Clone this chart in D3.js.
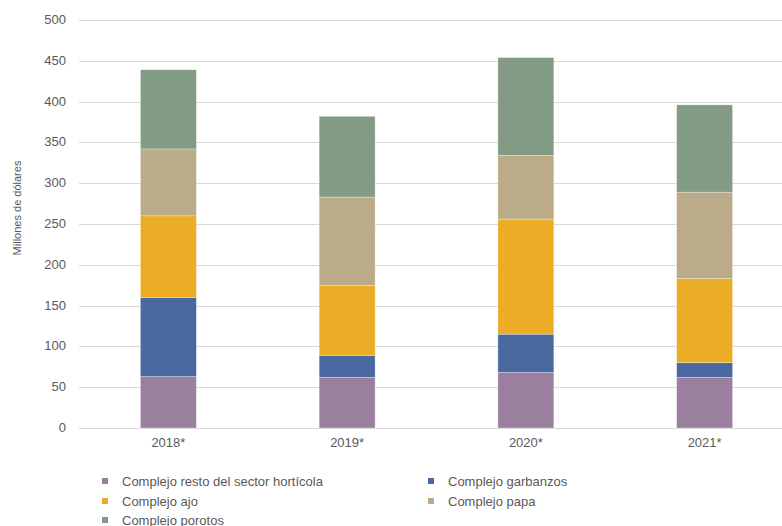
<!DOCTYPE html>
<html>
<head>
<meta charset="utf-8">
<script src="https://cdn.jsdelivr.net/npm/d3@7"></script>
<style>
  body { margin: 0; background: #fff; }
  text { font-family: "Liberation Sans", Arial, sans-serif; fill: #595959; }
</style>
</head>
<body>
<div id="chart"></div>
<script>
var years = ["2018*", "2019*", "2020*", "2021*"];
var series = ["Complejo resto del sector hortícola", "Complejo garbanzos", "Complejo ajo", "Complejo papa", "Complejo porotos"];
var resto = [63, 62, 68, 62];
var garbanzos = [97, 27, 47, 18];
var ajo = [100, 86, 141, 103];
var papa = [82, 108, 78, 106];
var porotos = [97, 99, 120, 107];
var yTicks = [0, 50, 100, 150, 200, 250, 300, 350, 400, 450, 500];
var colors = ["#9a7f9e", "#4c68a0", "#ebac26", "#bcab88", "#839b84"];

var rows = years.map(function(y, i) {
  return {year: y, s0: resto[i], s1: garbanzos[i], s2: ajo[i], s3: papa[i], s4: porotos[i]};
});
var keys = ["s0", "s1", "s2", "s3", "s4"];
var stacked = d3.stack().keys(keys)(rows);

var svg = d3.select("#chart").append("svg")
  .attr("width", 782).attr("height", 526)

var x = d3.scaleBand().domain(years).range([79, 794])
  .paddingInner(0.687).paddingOuter(0.3435);
var y = d3.scaleLinear().domain([0, 500]).range([428, 20]);

// gridlines
svg.append("g").selectAll("line")
  .data(yTicks)
  .enter().append("line")
  .attr("x1", 79).attr("x2", 782)
  .attr("y1", function(d){ return Math.round(y(d)) + 0.5 })
  .attr("y2", function(d){ return Math.round(y(d)) + 0.5 })
  .attr("stroke", "#d9d9d9").attr("stroke-width", 1);

svg.append("g").selectAll("text")
  .data(yTicks)
  .enter().append("text")
  .attr("x", 66).attr("y", function(d){ return y(d) + 4 })
  .attr("text-anchor", "end")
  .style("font-size", "13px")
  .text(function(d){ return d });

// bars
svg.append("g").selectAll("g")
  .data(stacked)
  .enter().append("g")
  .attr("fill", function(d, i){ return colors[i] })
  .selectAll("rect")
  .data(function(d){ return d })
  .enter().append("rect")
  .attr("x", function(d){ return x(d.data.year) })
  .attr("width", x.bandwidth())
  .attr("y", function(d){ return y(d[1]) })
  .attr("height", function(d){ return y(d[0]) - y(d[1]) })
  .attr("stroke", "#ffffff").attr("stroke-width", 0.6).attr("stroke-opacity", 0.5);

// x labels
svg.append("g").selectAll("text")
  .data(years)
  .enter().append("text")
  .attr("x", function(d){ return x(d) + x.bandwidth() / 2 })
  .attr("y", 447)
  .attr("text-anchor", "middle")
  .style("font-size", "13px")
  .text(function(d){ return d });

// y title
svg.append("text")
  .attr("transform", "translate(21,208) rotate(-90)")
  .attr("text-anchor", "middle")
  .style("font-size", "11px")
  .text("Millones de dólares");

// legend
var legendPos = [[102, 481], [428, 481], [102, 501], [428, 501], [102, 520]];
var leg = svg.append("g").selectAll("g")
  .data(series)
  .enter().append("g")
  .attr("transform", function(d, i){ return "translate(" + legendPos[i][0] + "," + legendPos[i][1] + ")" });
leg.append("rect")
  .attr("x", 0).attr("y", -3).attr("width", 6).attr("height", 6)
  .attr("fill", function(d, i){ return colors[i] });
leg.append("text")
  .attr("x", 20).attr("y", 5)
  .style("font-size", "13px")
  .text(function(d){ return d });
</script>
</body>
</html>
